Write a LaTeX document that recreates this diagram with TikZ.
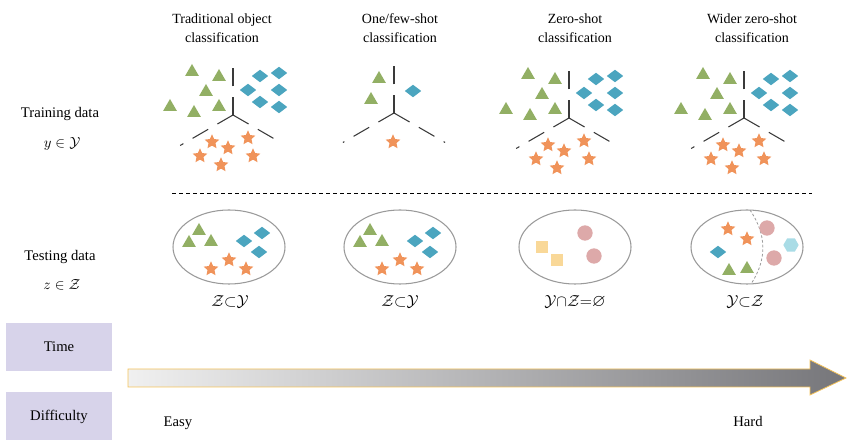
\documentclass[tikz,border=0pt]{standalone}
\usepackage{amsmath}
\usepackage{amssymb}
\usepackage{fontspec}
\setmainfont{Liberation Serif}
\usetikzlibrary{shapes.geometric, positioning}

\definecolor{trigreen}{HTML}{92AF64}
\definecolor{diablue}{HTML}{4BA5BF}
\definecolor{starorange}{HTML}{F0935A}
\definecolor{sqyellow}{HTML}{F9D898}
\definecolor{blobpink}{HTML}{DDA9A9}
\definecolor{hexblue}{HTML}{A9DCE6}
\definecolor{boxlav}{HTML}{D7D3EA}
\definecolor{armgray}{HTML}{3A3A3A}
\definecolor{setgray}{HTML}{9A9A9A}
\definecolor{arrowedge}{HTML}{F5C35A}
\definecolor{arrowlight}{HTML}{F0F0F0}
\definecolor{arrowdark}{HTML}{76767A}

% shape clusters used in the columns
\tikzset{
  pics/trainset/.style={code={
    \coordinate (-j) at (0,0);
    \foreach \x/\y [count=\i] in {-41/-43,-14/-38,-27/-23,-63/-8,-39/-2,-14/-8}
      \node[tri] (-t\i) at (\x,\y) {};
    \foreach \x/\y [count=\i] in {27/-39,46/-42,15/-25,46/-25,27/-13,46/-8}
      \node[dia] (-d\i) at (\x,\y) {};
    \foreach \x/\y [count=\i] in {-21/27,15/23,-5/33,-33/41,20/41,-12/50}
      \node[sta] (-s\i) at (\x,\y) {};
    \draw[arm] (-j) -- ++(0,-48);
    \draw[arm] (-j) -- ++(150:61);
    \draw[arm] (-j) -- ++(30:48);
  }},
  pics/fewset/.style={code={
    \coordinate (-j) at (0,0);
    \node[tri] (-t1) at (-15,-34) {};
    \node[tri] (-t2) at (-23,-13) {};
    \node[dia] (-d1) at (19,-22) {};
    \node[sta] (-s1) at (-1,29) {};
    \draw[arm] (-j) -- ++(0,-48);
    \draw[arm] (-j) -- ++(150:59);
    \draw[arm] (-j) -- ++(30:59);
  }},
  pics/testmix/.style={code={
    \foreach \x/\y [count=\i] in {-30/-16,-40/-4,-18/-5}
      \node[tri] (-t\i) at (\x,\y) {};
    \foreach \x/\y [count=\i] in {33/-14,15/-6,30/5}
      \node[dia] (-d\i) at (\x,\y) {};
    \foreach \x/\y [count=\i] in {0/13,-18/22,17/22}
      \node[sta] (-s\i) at (\x,\y) {};
  }}
}

\begin{document}
\begin{tikzpicture}[
    x=0.75pt, y=-0.75pt,
    font=\fontsize{11}{14}\selectfont,
    tri/.style={regular polygon, regular polygon sides=3, fill=trigreen, inner sep=0pt, minimum size=12pt},
    dia/.style={diamond, fill=diablue, inner sep=0pt, minimum width=12.5pt, minimum height=9.5pt},
    sta/.style={star, star points=5, star point ratio=2.1, fill=starorange, inner sep=0pt, minimum size=11.5pt},
    sqr/.style={rectangle, fill=sqyellow, inner sep=0pt, minimum size=9.5pt},
    blob/.style={circle, fill=blobpink, inner sep=0pt, minimum size=11.5pt},
    hexa/.style={regular polygon, regular polygon sides=6, fill=hexblue, inner sep=0pt, minimum size=11.5pt},
    arm/.style={draw=armgray, line width=0.8pt, dash pattern=on 13.5pt off 8pt},
    classset/.style={ellipse, draw=setgray, line width=0.8pt, minimum width=84pt, minimum height=55.5pt},
    heading/.style={align=center, font=\fontsize{10.5}{14}\selectfont},
    sidebox/.style={rectangle, fill=boxlav, minimum width=79.5pt, minimum height=36pt},
    relation/.style={font=\fontsize{13}{15}\selectfont}
]
    \useasboundingbox (0,0) rectangle (854,448);

    % Headings
    \node[heading] (h1) at (222,28) {Traditional object\\classification};
    \node[heading] (h2) at (400,28) {One/few-shot\\classification};
    \node[heading] (h3) at (575,28) {Zero-shot\\classification};
    \node[heading] (h4) at (752,28) {Wider zero-shot\\classification};

    % Row labels
    \node (train) at (60,114) {Training data};
    \node (trainsym) at (62,144) {$y\in\mathcal{Y}$};
    \node (test) at (60,257) {Testing data};
    \node (testsym) at (62,285) {$z\in\mathcal{Z}$};

    % Training data
    \pic (c1) at (233,115) {trainset};
    \pic (c2) at (394,113) {fewset};
    \pic (c3) at (569,118) {trainset};
    \pic (c4) at (744,118) {trainset};

    \draw[line width=0.7pt, dash pattern=on 3pt off 2.25pt] (172,193) -- (812,193);

    % Testing data
    \node[classset] (set1) at (229,247) {};
    \node[classset] (set2) at (400,247) {};
    \node[classset] (set3) at (575,247) {};
    \node[classset] (set4) at (747,247) {};
    \pic (m1) at (229,247) {testmix};
    \pic (m2) at (400,247) {testmix};

    \node[sqr] (q1) at (542,247) {};
    \node[sqr] (q2) at (557,260) {};
    \node[blob] (b1) at (585,233) {};
    \node[blob] (b2) at (594,256) {};

    \draw[setgray, line width=0.6pt, dash pattern=on 2pt off 1.5pt] (750,210) .. controls (767,235) and (767,260) .. (751,284);
    \node[sta] (w1) at (728,229) {};
    \node[sta] (w2) at (747,239) {};
    \node[dia] (w3) at (718,252) {};
    \node[tri] (w4) at (729,271) {};
    \node[tri] (w5) at (747,269) {};
    \node[blob] (w6) at (767,228) {};
    \node[blob] (w7) at (774,258) {};
    \node[hexa] (w8) at (791,245) {};

    \node[relation] (r1) at (230,302) {$\mathcal{Z}{\subset}\mathcal{Y}$};
    \node[relation] (r2) at (400,302) {$\mathcal{Z}{\subset}\mathcal{Y}$};
    \node[relation] (r3) at (575,302) {$\mathcal{Y}{\cap}\mathcal{Z}{=}\varnothing$};
    \node[relation] (r4) at (745,302) {$\mathcal{Y}{\subset}\mathcal{Z}$};

    % Time / difficulty
    \node[sidebox] (time) at (59,347) {Time};
    \node[sidebox] (diff) at (59,416.5) {Difficulty};

    \path[left color=arrowlight, right color=arrowdark, draw=arrowedge, line width=0.6pt]
        (128,369) -- (810,369) -- (810,360) -- (846,378) -- (810,395) -- (810,387) -- (128,387) -- cycle;

    \node (easy) at (178,423) {Easy};
    \node (hard) at (748,421) {Hard};
\end{tikzpicture}
\end{document}
